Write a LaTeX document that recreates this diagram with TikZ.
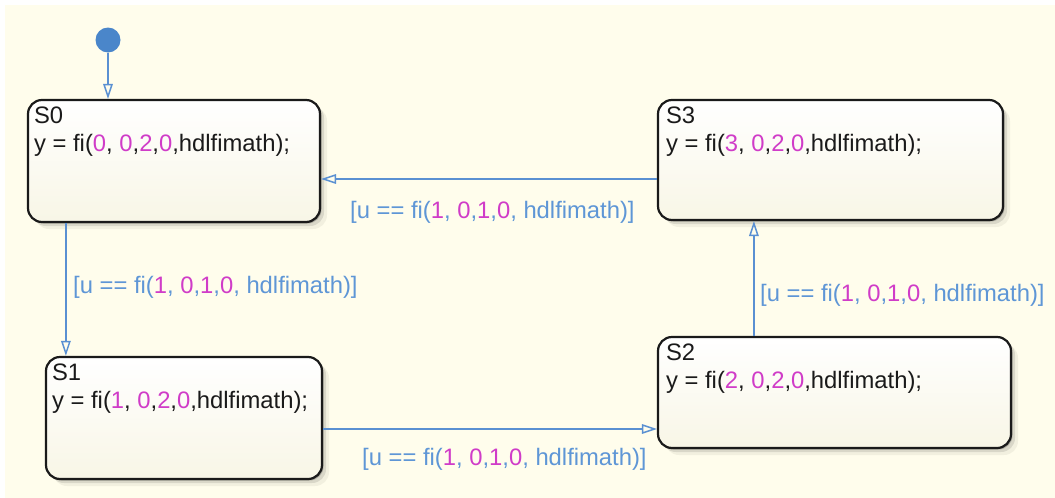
\documentclass[tikz,border=0pt]{standalone}
\usepackage{fontspec}
\setmainfont{Liberation Sans}[Ligatures=NoCommon]
\usetikzlibrary{arrows.meta,shadows,calc}
\definecolor{bg}{HTML}{FFFDEC}
\definecolor{trc}{HTML}{5A90D2}
\definecolor{lblc}{HTML}{5E96D6}
\definecolor{numc}{HTML}{D03CC8}
\definecolor{txtc}{HTML}{1A1A1A}
\definecolor{dotc}{HTML}{4A86CA}
\definecolor{botc}{HTML}{F8F6E6}
\newcommand\nm[1]{\textcolor{numc}{#1}}
\newcommand\guardtext{[u == fi(\nm{1}, \nm{0},\nm{1},\nm{0}, hdlfimath)]}
\begin{document}
\begin{tikzpicture}[x=1pt,y=-1pt,
  statebox/.style={draw=txtc, line width=2.2pt, rounded corners=14pt,
    top color=white, bottom color=botc, inner sep=0pt,
    drop shadow={shadow xshift=1.5pt, shadow yshift=-1.5pt, opacity=.22, fill=black},
    drop shadow={shadow xshift=4pt, shadow yshift=-4pt, opacity=.10, fill=black},
    drop shadow={shadow xshift=7pt, shadow yshift=-7pt, opacity=.05, fill=black}},
  stxt/.style={anchor=base west, inner sep=0pt, text=txtc,
    font=\fontsize{23.8}{28}\selectfont},
  glabel/.style={anchor=base west, inner sep=0pt, text=lblc,
    font=\fontsize{23.8}{28}\selectfont},
  trans/.style={draw=trc, line width=1.5pt,
    -{Triangle[open, length=15pt, width=9.5pt, line width=1.5pt]}},
  initdot/.style={circle, fill=dotc, minimum size=25pt, inner sep=0pt}]
\useasboundingbox (0,0) rectangle (1055,498);
\fill[white] (0,0) rectangle (1055,498);
\fill[bg] (5,5) rectangle (1055,498);

% states
\node[statebox, minimum width=292pt, minimum height=122pt] (S0) at (174,161) {};
\node[statebox, minimum width=276pt, minimum height=122pt] (S1) at (184,418) {};
\node[statebox, minimum width=353pt, minimum height=111pt] (S2) at (834.5,392.5) {};
\node[statebox, minimum width=345pt, minimum height=120pt] (S3) at (830.5,160) {};

% state texts
\node[stxt] (S0a) at ($(S0.north west)+(7,25)$) {S0};
\node[stxt] (S0b) at ($(S0.north west)+(7,53)$) {y = fi(\nm{0}, \nm{0},\nm{2},\nm{0},hdlfimath);};
\node[stxt] (S1a) at ($(S1.north west)+(7,25)$) {S1};
\node[stxt] (S1b) at ($(S1.north west)+(7,53)$) {y = fi(\nm{1}, \nm{0},\nm{2},\nm{0},hdlfimath);};
\node[stxt] (S2a) at ($(S2.north west)+(9,25)$) {S2};
\node[stxt] (S2b) at ($(S2.north west)+(9,53)$) {y = fi(\nm{2}, \nm{0},\nm{2},\nm{0},hdlfimath);};
\node[stxt] (S3a) at ($(S3.north west)+(9,25)$) {S3};
\node[stxt] (S3b) at ($(S3.north west)+(9,53)$) {y = fi(\nm{3}, \nm{0},\nm{2},\nm{0},hdlfimath);};

% initial transition
\node[initdot] (init) at (108,40) {};
\draw[trans] (init) -- (init |- S0.north);

% transitions
\draw[trans] ([xshift=39pt]S0.south west) -- ([xshift=21pt]S1.north west);
\draw[trans] ([yshift=-11pt]S1.east) -- ([yshift=-11pt]S1.east -| S2.west);
\draw[trans] ([xshift=97pt]S2.north west) -- ([xshift=97pt]S2.north west |- S3.south);
\draw[trans] ([yshift=-19pt]S3.west) -- ([yshift=-19pt]S3.west -| S0.east);

% guard labels
\node[glabel] (g01) at (73,293) {\guardtext};
\node[glabel] (g12) at (362,465) {\guardtext};
\node[glabel] (g23) at (760,301) {\guardtext};
\node[glabel] (g30) at (350,218) {\guardtext};
\end{tikzpicture}
\end{document}
